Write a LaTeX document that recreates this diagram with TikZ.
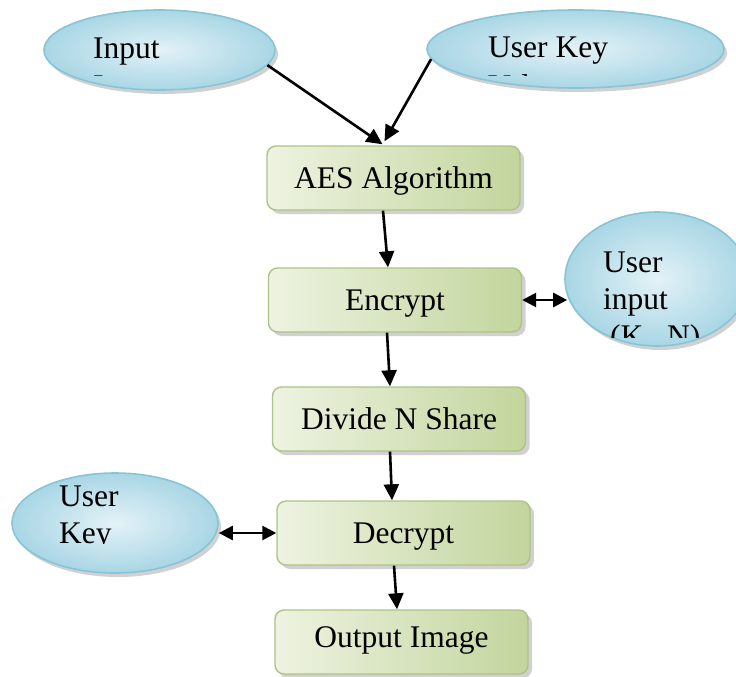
\documentclass[tikz,border=0pt]{standalone}
\usepackage{fontspec}
\setmainfont{Liberation Serif}
\usetikzlibrary{shapes.geometric,shadows,arrows.meta,calc}
\definecolor{boxL}{HTML}{EDF3E1}
\definecolor{boxR}{HTML}{C3D59D}
\definecolor{boxB}{HTML}{ADC385}
\definecolor{ellI}{HTML}{E3F2F7}
\definecolor{ellO}{HTML}{A9D6E5}
\definecolor{ellB}{HTML}{86C5D8}
\begin{document}
\begin{tikzpicture}[x=1pt,y=-1pt,
  stepbox/.style={rectangle, rounded corners=9pt, draw=boxB, line width=1.4pt,
    left color=boxL, right color=boxR, minimum width=253pt, minimum height=64pt,
    inner sep=0pt, text height=23pt, text depth=3pt,
    font=\fontsize{31.5}{37}\selectfont,
    drop shadow={shadow xshift=4pt, shadow yshift=-4pt, fill=black!40, opacity=0.45}},
  ovalbox/.style={ellipse, draw=ellB, line width=1.6pt, inner color=ellI, outer color=ellO,
    inner sep=0pt,
    drop shadow={shadow xshift=3pt, shadow yshift=-4pt, fill=black!40, opacity=0.45}},
  txt/.style={anchor=base west, inner sep=0pt, font=\fontsize{31.5}{37}\selectfont},
  arr/.style={line width=2.6pt, -{Triangle[length=16pt,width=15pt]}},
  darr/.style={line width=2.6pt, {Triangle[length=14pt,width=14pt]}-{Triangle[length=14pt,width=14pt]}}
]
\useasboundingbox (0,0) rectangle (736,677);

% ellipses
\node[ovalbox, minimum width=231pt, minimum height=80pt] (inA) at (159.5,50) {};
\node[ovalbox, minimum width=297pt, minimum height=78pt] (ukA) at (575.5,49) {};
\node[ovalbox, minimum width=184pt, minimum height=134pt] (uin) at (657,279) {};
\node[ovalbox, minimum width=206pt, minimum height=100pt] (uk2) at (115,523) {};

% ellipse texts
\node[txt] (t1) at (93,59) {Input};
\node[txt] (t2) at (488,58) {User Key};
\begin{scope}
  \clip (0,0) rectangle (736,75.5);
  \node[txt] (t1b) at (93,96) {Image};
  \node[txt] (t2b) at (488,96) {Value};
\end{scope}
\node[txt] (t3) at (603,272) {User};
\node[txt] (t3b) at (603,309) {input};
\begin{scope}
  \clip (540,200) rectangle (736,337);
  \node[txt] (t3c) at (610,346) {(K,\ \ N)};
\end{scope}
\node[txt] (t4) at (59,506) {User};
\begin{scope}
  \clip (0,440) rectangle (300,543);
  \node[txt] (t4b) at (59,543) {Key};
\end{scope}

% boxes
\node[stepbox] (aes) at (393.5,178) {AES Algorithm};
\node[stepbox] (enc) at (395,300) {Encrypt};
\node[stepbox] (div) at (399,419) {Divide N Share};
\node[stepbox] (dec) at (403.5,533) {Decrypt};
\node[stepbox, text depth=12pt] (out) at (401.5,642) {Output Image};

% connectors
\draw[arr] (inA.-8) -- ($(aes.north)+(-11,-1)$);
\draw[arr] (ukA.184) -- ($(aes.north)+(-9,-4)$);
\draw[arr] ([xshift=-10.5pt]aes.south) -- ([xshift=-7pt]enc.north);
\draw[arr] ([xshift=-8pt]enc.south) -- ([xshift=-9pt]div.north);
\draw[arr] ([xshift=-9pt]div.south) -- ([xshift=-11.5pt]dec.north);
\draw[arr] ([xshift=-9.5pt]dec.south) -- ([xshift=-4.5pt]out.north);
\draw[darr] (enc.east) -- ($(enc.east -| uin.west)+(3,0)$);
\draw[darr] (uk2.east |- dec.west) -- (dec.west);
\end{tikzpicture}
\end{document}
